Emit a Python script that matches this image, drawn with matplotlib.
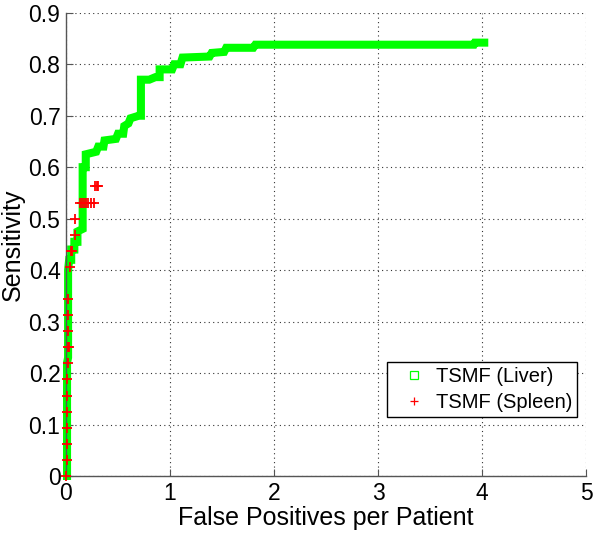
import matplotlib
matplotlib.use("Agg")
import matplotlib.pyplot as plt
from matplotlib.lines import Line2D
from matplotlib.ticker import FormatStrFormatter

plt.rcParams['font.family'] = ['Liberation Sans', 'DejaVu Sans']

# Liver FROC curve (corners of the staircase)
liver_fp = [0.01, 0.01, 0.02, 0.02, 0.03, 0.05, 0.05, 0.08, 0.08, 0.11, 0.11, 0.16,
            0.16, 0.19, 0.19, 0.29, 0.31, 0.36, 0.37, 0.48, 0.50, 0.55, 0.56, 0.60,
            0.62, 0.70, 0.72, 0.72, 0.80, 0.86, 0.90, 0.90, 1.02, 1.04, 1.10, 1.12,
            1.38, 1.40, 1.52, 1.54, 1.80, 1.82, 3.92, 3.93, 4.02]
liver_sens = [0.00, 0.22, 0.23, 0.40, 0.42, 0.42, 0.44, 0.44, 0.455, 0.455, 0.475, 0.48,
              0.60, 0.60, 0.625, 0.63, 0.64, 0.64, 0.652, 0.655, 0.665, 0.665, 0.68, 0.685,
              0.695, 0.70, 0.70, 0.77, 0.77, 0.775, 0.775, 0.79, 0.79, 0.80, 0.80, 0.813,
              0.815, 0.822, 0.824, 0.832, 0.832, 0.838, 0.838, 0.842, 0.842]

# Spleen FROC points
spleen_fp = [0.00, 0.01, 0.01, 0.01, 0.01, 0.01, 0.01, 0.015, 0.015, 0.025, 0.015, 0.015,
             0.02, 0.04, 0.05, 0.06, 0.085, 0.085, 0.13, 0.15, 0.17, 0.19, 0.21, 0.24,
             0.27, 0.28, 0.30, 0.31]
spleen_sens = [0.0, 0.03125, 0.0625, 0.09375, 0.125, 0.15625, 0.1875, 0.21875, 0.25, 0.25,
               0.28125, 0.3125, 0.34375, 0.40625, 0.4375, 0.4375, 0.46875, 0.5, 0.53125,
               0.53125, 0.53125, 0.53125, 0.53125, 0.53125, 0.53125, 0.5625, 0.5625, 0.5625]

series_labels = ['TSMF (Liver)', 'TSMF (Spleen)']
x_ticks = [0, 1, 2, 3, 4, 5]
y_ticks = [0, 0.1, 0.2, 0.3, 0.4, 0.5, 0.6, 0.7, 0.8, 0.9]

green = '#00ff00'
red = '#ff0000'

fig = plt.figure(figsize=(6.0, 5.33), dpi=100)
ax = fig.add_axes([0.11, 0.107, 0.867, 0.869])

ax.plot(liver_fp, liver_sens, color=green, lw=5.8, solid_capstyle='projecting',
        solid_joinstyle='miter', zorder=2, clip_on=False)
ax.plot(spleen_fp, spleen_sens, linestyle='none', marker='+', ms=7, mew=1.3,
        color=red, zorder=3, clip_on=False)

ax.set_xlim(0, 5)
ax.set_ylim(0, 0.9)
ax.set_xticks(x_ticks)
ax.set_yticks(y_ticks)
ax.yaxis.set_major_formatter(FormatStrFormatter('%g'))
ax.tick_params(direction='in', length=5, width=0.8, color='#555555',
               labelsize=16.5, pad=4)
for s in ['top', 'right']:
    ax.spines[s].set_visible(False)
for s in ['left', 'bottom']:
    ax.spines[s].set_color('#555555')
    ax.spines[s].set_linewidth(1.0)
ax.grid(True, linestyle=(0, (1, 3)), color='#333333', linewidth=0.8)
ax.set_axisbelow(True)

ax.set_xlabel('False Positives per Patient', fontsize=18, labelpad=1)
ax.set_ylabel('Sensitivity', fontsize=18, labelpad=3)

handles = [Line2D([], [], linestyle='none', marker='s', ms=6, mfc='none', mec=green, mew=0.9),
           Line2D([], [], linestyle='none', marker='+', ms=6, color=red, mew=0.9)]
leg = ax.legend(handles, series_labels, loc='upper right', bbox_to_anchor=(0.983, 0.246),
                fontsize=14.5, frameon=True, fancybox=False, edgecolor='black',
                framealpha=1, handlelength=2.2, handletextpad=0.0, labelspacing=0.35,
                borderpad=0.25, borderaxespad=0)
leg.get_frame().set_linewidth(1.0)

fig.savefig('out.png', dpi=100)
